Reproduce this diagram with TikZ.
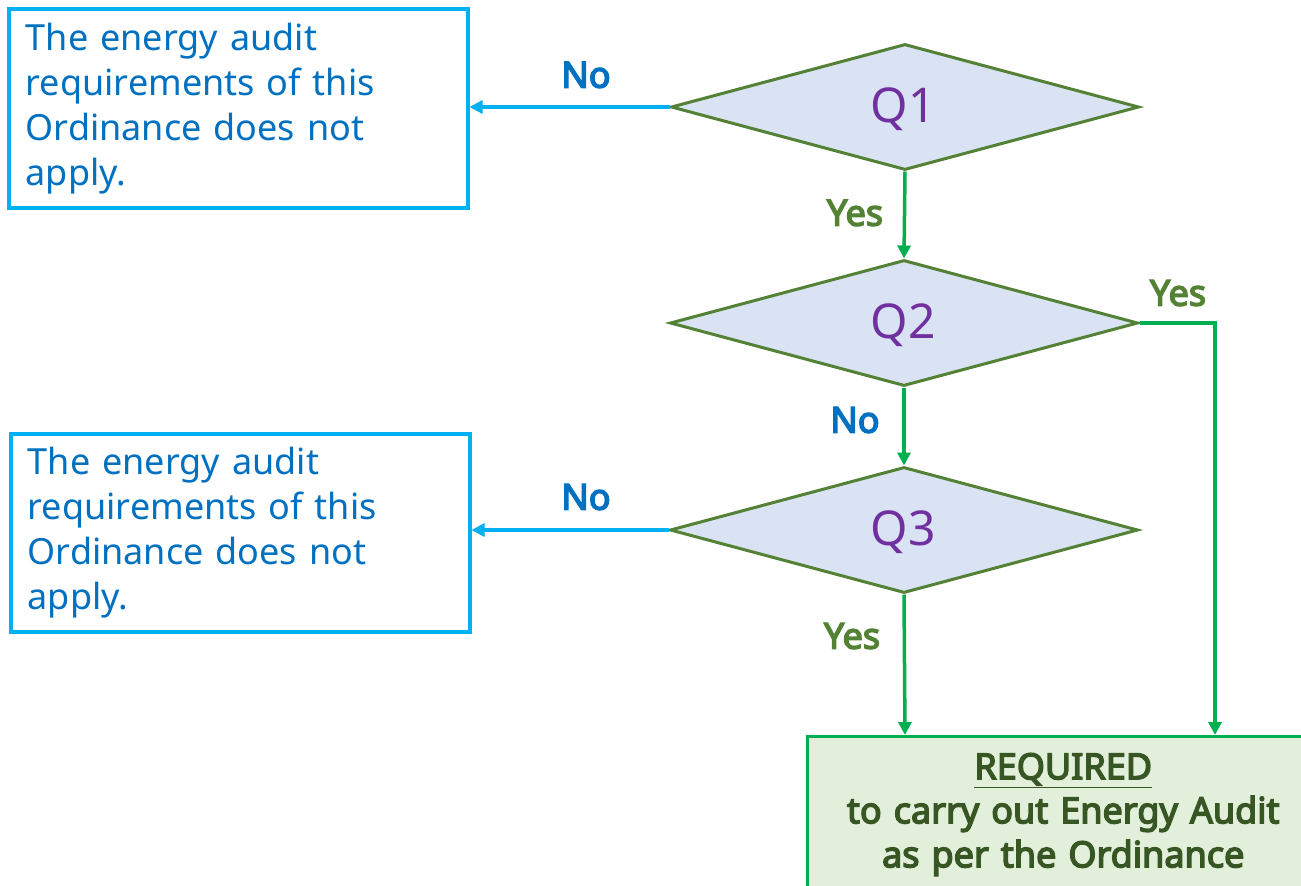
\documentclass[tikz,border=0pt]{standalone}
\usepackage{fontspec}
\setmainfont{Noto Sans}[BoldFont={Noto Sans}, BoldFeatures={FakeBold=4}]
\usetikzlibrary{shapes.geometric,arrows.meta}
\definecolor{lblue}{HTML}{00B0F0}
\definecolor{dblue}{HTML}{0070C0}
\definecolor{dgreen}{HTML}{538135}
\definecolor{lgreen}{HTML}{00B050}
\definecolor{dfill}{HTML}{DAE3F3}
\definecolor{qpurple}{HTML}{7030A0}
\definecolor{yesgreen}{HTML}{548235}
\definecolor{reqfill}{HTML}{E2EFDA}
\definecolor{reqtext}{HTML}{375623}
\tikzset{
  infobox/.style={draw=lblue, line width=3.5pt, fill=white, anchor=north west,
    align=left, text=dblue, inner xsep=17pt, inner ysep=0pt, text width=425pt,
    minimum width=459pt, font=\fontsize{36}{45}\selectfont},
  qdiamond/.style={diamond, draw=dgreen, line width=3pt, fill=dfill, inner sep=0pt,
    minimum width=468pt, minimum height=126pt},
  qtext/.style={text=qpurple, font=\fontsize{48}{50}\selectfont},
  reqbox/.style={draw=lgreen, line width=2.5pt, fill=reqfill, anchor=north west,
    text=reqtext, font=\bfseries\fontsize{36}{44}\selectfont, align=center,
    inner xsep=0pt, inner ysep=0pt, text width=512pt, minimum width=512pt},
  noarrow/.style={draw=lblue, line width=3.5pt, -{Triangle[length=13pt,width=13pt]}},
  yesarrow/.style={draw=lgreen, line width=3.5pt, -{Triangle[length=13pt,width=13pt]}},
  nolabel/.style={text=dblue, font=\bfseries\fontsize{36}{40}\selectfont},
  yeslabel/.style={text=yesgreen, font=\bfseries\fontsize{36}{40}\selectfont},
}
\begin{document}
\begin{tikzpicture}[x=1pt,y=-1pt]
\useasboundingbox (0,0) rectangle (1301,886);
% boxes
\node[infobox, minimum height=199pt] (b1) at (7,7)
  {The energy audit\\requirements of this\\Ordinance does not\\apply.};
\node[infobox, minimum height=198pt] (b2) at (9,432)
  {The energy audit\\requirements of this\\Ordinance does not\\apply.};
% diamonds
\node[qdiamond] (q1) at (905,107) {};
\node[qdiamond] (q2) at (904,323) {};
\node[qdiamond] (q3) at (904,530) {};
\node[qtext] (t1) at (903,109) {Q1};
\node[qtext] (t2) at (903,325) {Q2};
\node[qtext] (t3) at (903,532) {Q3};
% required box
\node[reqbox, minimum height=170pt] (req) at (806,735)
  {\rule{0pt}{43pt}\underline{REQUIRED}\\to carry out Energy Audit\\as per the Ordinance\\\rule{0pt}{20pt}};
\coordinate (c1) at (1215,323);
\coordinate (c2) at (1215,735);
\coordinate (c3) at (905,735);
% connectors
\draw[noarrow] (q1.west) -- (b1.east |- q1.west);
\draw[noarrow] (q3.west) -- (b2.east |- q3.west);
\draw[yesarrow] (q1.south) -- (q2.north);
\draw[yesarrow] (q2.south) -- (q3.north);
\draw[yesarrow] (q3.south) -- (c3);
\draw[yesarrow] (q2.east) -- (c1) -- (c2);
% labels
\node[nolabel] (l1) at (586,75) {No};
\node[nolabel] (l2) at (586,497) {No};
\node[nolabel] (l3) at (855,420) {No};
\node[yeslabel] (l4) at (855,213) {Yes};
\node[yeslabel] (l5) at (1178,293) {Yes};
\node[yeslabel] (l6) at (852,636) {Yes};
\end{tikzpicture}
\end{document}
